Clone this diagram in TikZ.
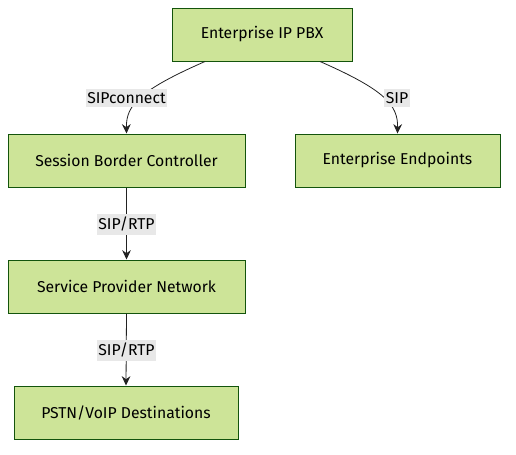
\documentclass[tikz,border=0pt]{standalone}
\usepackage{fontspec}
\setmainfont{Fira Sans}
\usetikzlibrary{arrows.meta}
\definecolor{boxfill}{HTML}{CDE498}
\definecolor{boxline}{HTML}{13540C}
\definecolor{lblbg}{HTML}{E8E8E8}
\definecolor{edgecol}{HTML}{222222}
\begin{document}
\begin{tikzpicture}[x=0.75pt,y=-0.75pt,
  box/.style={draw=boxline,fill=boxfill,line width=0.75pt,minimum height=53*0.75pt,inner sep=0pt,font=\fontsize{11.8}{13}\selectfont,text=black},
  lbl/.style={fill=lblbg,inner xsep=1pt,inner ysep=2.5pt,font=\fontsize{11.8}{13}\selectfont,text=black},
  edge/.style={draw=edgecol,line width=0.6pt,-{Stealth[length=7pt,width=6.5pt]}}]
\useasboundingbox (0,0) rectangle (516,454);
\node[box,minimum width=180*0.75pt] (pbx) at (262,34.5) {Enterprise IP PBX};
\node[box,minimum width=237*0.75pt] (sbc) at (126.5,160.5) {Session Border Controller};
\node[box,minimum width=205*0.75pt] (ee) at (397.5,160.5) {Enterprise Endpoints};
\node[box,minimum width=237*0.75pt] (spn) at (126.5,286.5) {Service Provider Network};
\node[box,minimum width=224*0.75pt] (pstn) at (126,412.5) {PSTN/VoIP Destinations};
\coordinate (a1) at ([xshift=-57*0.75pt]pbx.south);
\coordinate (a2) at ([xshift=58*0.75pt]pbx.south);
\draw[edge] (a1) .. controls (140,90) and (126,105) .. (sbc.north);
\draw[edge] (a2) .. controls (385,90) and (398,105) .. (ee.north);
\draw[edge] (sbc.south) -- (spn.north);
\draw[edge] (spn.south) -- (pstn.north);
\node[lbl] (l1) at (126.5,98) {SIPconnect};
\node[lbl] (l2) at (397,98) {SIP};
\node[lbl] (l3) at (126.5,224) {SIP/RTP};
\node[lbl] (l4) at (126.5,350) {SIP/RTP};
\end{tikzpicture}
\end{document}
